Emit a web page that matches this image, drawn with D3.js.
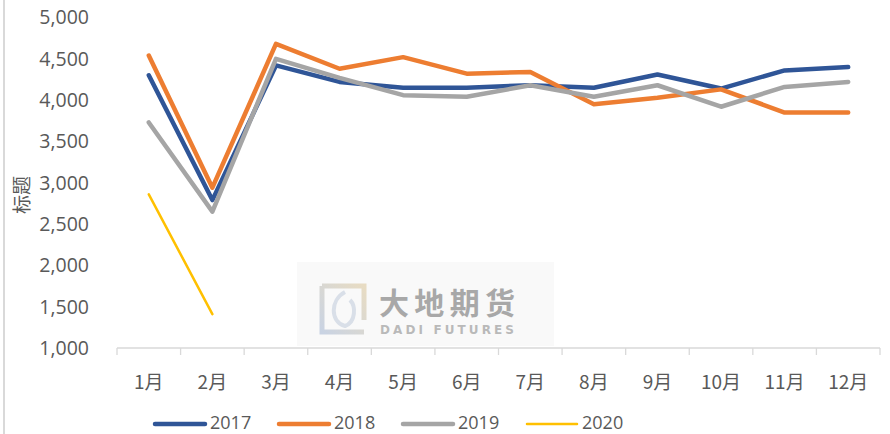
<!DOCTYPE html>
<html><head><meta charset="utf-8">
<script src="https://cdn.jsdelivr.net/npm/d3@7/dist/d3.min.js"></script>
<style>body{margin:0;background:#fff;overflow:hidden}svg{display:block}</style>
</head><body>
<script>
const months = ["1月","2月","3月","4月","5月","6月","7月","8月","9月","10月","11月","12月"];
const years = ["2017","2018","2019","2020"];
const v2017 = [4300, 2790, 4420, 4220, 4150, 4150, 4180, 4150, 4310, 4140, 4360, 4400];
const v2018 = [4540, 2940, 4680, 4380, 4520, 4320, 4340, 3950, 4030, 4130, 3850, 3850];
const v2019 = [3730, 2650, 4500, 4270, 4060, 4040, 4180, 4040, 4180, 3920, 4160, 4220];
const v2020 = [2860, 1410];
const yTicks = [1000, 1500, 2000, 2500, 3000, 3500, 4000, 4500, 5000];
const colors = ["#2F5597", "#ED7D31", "#A5A5A5", "#FFC000"];
const widths = [4.5, 4.5, 4.5, 2.5];
const seriesVals = [v2017, v2018, v2019, v2020];

const W = 890, H = 434;
const svg = d3.select("body").append("svg").attr("width", W).attr("height", H);

// left border line
svg.append("line").attr("x1", 4).attr("x2", 4).attr("y1", 0).attr("y2", H)
  .attr("stroke", "#d9d9d9").attr("stroke-width", 2);

const x = d3.scaleBand().domain(months).range([117, 880]);
const y = d3.scaleLinear().domain([1000, 5000]).range([348, 17.5]);

// watermark
const wm = svg.append("g");
wm.append("rect").attr("x", 297).attr("y", 262).attr("width", 257).attr("height", 84).attr("fill", "#f9f9f9");
const defs = svg.append("defs");
const grad = defs.append("linearGradient").attr("id", "lg").attr("x1", 0).attr("y1", 1).attr("x2", 1).attr("y2", 0);
grad.append("stop").attr("offset", "0%").attr("stop-color", "#c9d3e3");
grad.append("stop").attr("offset", "100%").attr("stop-color", "#e8dcc3");
wm.append("path").attr("d", "M322,286 L364,286 L364,320 M322,286 L322,332 L364,332")
  .attr("fill", "none").attr("stroke", "url(#lg)").attr("stroke-width", 5);
wm.append("path").attr("d", "M345,292 C330,300 330,322 345,326 C356,322 356,306 350,300")
  .attr("fill", "none").attr("stroke", "#d9dfe8").attr("stroke-width", 4);
wm.append("text").attr("x", 379).attr("y", 314).text("大地期货")
  .attr("font-family", "Noto Sans CJK SC").attr("font-weight", "bold")
  .attr("font-size", 30).attr("fill", "#a8a8a8").attr("textLength", 136);
wm.append("text").attr("x", 380).attr("y", 334).text("DADI FUTURES")
  .attr("font-family", "DejaVu Sans").attr("font-weight", "bold")
  .attr("font-size", 12).attr("fill", "#b9b9b9").attr("textLength", 134);

// x axis
const xAxisG = svg.append("g");
xAxisG.append("line").attr("x1", 117).attr("x2", 880).attr("y1", 348).attr("y2", 348)
  .attr("stroke", "#d9d9d9").attr("stroke-width", 1.3);
const bounds = months.map(m => x(m)).concat([x(months[months.length - 1]) + x.bandwidth()]);
xAxisG.selectAll("line.tk").data(bounds).enter().append("line").attr("class", "tk")
  .attr("x1", d => d).attr("x2", d => d).attr("y1", 348).attr("y2", 355)
  .attr("stroke", "#d9d9d9").attr("stroke-width", 1.3);
xAxisG.selectAll("text").data(months).enter().append("text")
  .attr("x", d => x(d) + x.bandwidth() / 2).attr("y", 389)
  .attr("text-anchor", "middle").attr("font-family", "Noto Sans CJK SC")
  .attr("font-size", 19).attr("fill", "#595959").text(d => d);

// y axis labels
const fmt = d3.format(",");
svg.append("g").selectAll("text").data(yTicks).enter().append("text")
  .attr("x", 89).attr("y", d => y(d)).attr("dy", "0.35em")
  .attr("text-anchor", "end").attr("font-family", "Open Sans")
  .attr("font-size", 19.5).attr("fill", "#595959").text(d => fmt(d));

svg.append("text").attr("transform", "translate(29,195) rotate(-90)")
  .attr("text-anchor", "middle").attr("font-family", "Noto Sans CJK SC")
  .attr("font-size", 19).attr("fill", "#595959").text("标题");

// lines
const line = d3.line().x((d, i) => x(months[i]) + x.bandwidth() / 2).y(d => y(d));
seriesVals.forEach((vals, k) => {
  svg.append("path").datum(vals).attr("d", line).attr("fill", "none")
    .attr("stroke", colors[k]).attr("stroke-width", widths[k])
    .attr("stroke-linecap", "round").attr("stroke-linejoin", "round");
});

// legend
const legX = [155, 279, 403, 527];
const leg = svg.append("g");
years.forEach((yr, k) => {
  leg.append("line").attr("x1", legX[k]).attr("x2", legX[k] + 50).attr("y1", 424).attr("y2", 424)
    .attr("stroke", colors[k]).attr("stroke-width", widths[k]).attr("stroke-linecap", "round");
  leg.append("text").attr("x", legX[k] + 55).attr("y", 429)
    .attr("font-family", "Open Sans").attr("font-size", 18).attr("fill", "#595959").text(yr);
});
</script>
</body></html>
